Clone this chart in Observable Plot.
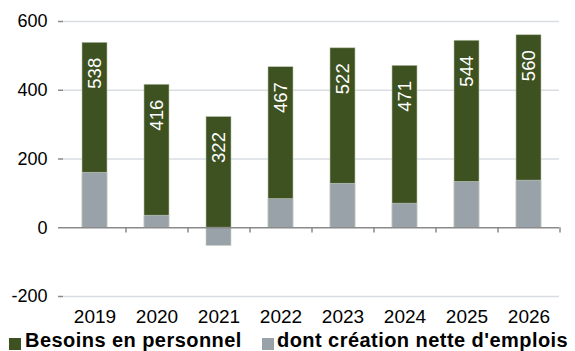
<!DOCTYPE html>
<html>
<head>
<meta charset="utf-8">
<script src="https://cdn.jsdelivr.net/npm/d3@7"></script>
<script src="https://cdn.jsdelivr.net/npm/@observablehq/plot@0.6"></script>
<style>
  html, body { margin: 0; padding: 0; background: #fff; }
  body { width: 575px; height: 351px; overflow: hidden; font-family: "Liberation Sans", Arial, sans-serif; }
  #legend { position: relative; height: 21px; }
  .sw { position: absolute; top: 8px; width: 12px; height: 12px; }
  .lt { position: absolute; top: 0px; font-weight: bold; font-size: 20px; letter-spacing: 0.45px; line-height: 20px; color: #000; white-space: nowrap; }
</style>
</head>
<body>
<div id="chart"></div>
<div id="legend"></div>
<script>
const years = ["2019", "2020", "2021", "2022", "2023", "2024", "2025", "2026"];
const besoins = [538, 416, 322, 467, 522, 471, 544, 560];
const creation = [160, 35, -53, 83, 128, 70, 133, 137];
const yTicks = [-200, 0, 200, 400, 600];
const seriesNames = ["Besoins en personnel", "dont création nette d'emplois"];
const colors = ["#3d5121", "#99a1a9"];

const data = years.map((y, i) => ({year: y, besoins: besoins[i], creation: creation[i]}));

const chart = Plot.plot({
  width: 575,
  height: 330,
  marginLeft: 63,
  marginRight: 16,
  marginTop: 21,
  marginBottom: 34,
  style: {fontFamily: '"Liberation Sans", Arial, sans-serif', fontSize: "18px", color: "#000", background: "#fff"},
  x: {domain: years, paddingInner: 0.6, paddingOuter: 0.3, align: 0.5, label: null},
  y: {domain: [-200, 600], label: null},
  marks: [
    Plot.ruleY(yTicks.filter(d => d !== 0), {stroke: "#d9dde2", strokeWidth: 1.3}),
    Plot.barY(data, {x: "year", y: "besoins", fill: colors[0], stroke: "#b8c2a8", strokeWidth: 0.6}),
    Plot.barY(data, {x: "year", y: "creation", fill: colors[1], stroke: "#c9d0c4", strokeWidth: 0.6}),
    Plot.ruleY([0], {stroke: "#8a8a8a", strokeWidth: 1.5}),
    Plot.ruleX(years, {x: d => d, y1: 0, y2: -15, dx: 31, stroke: "#8a8a8a", strokeWidth: 1.5}),
    Plot.axisY({ticks: yTicks, tickSize: 5, tickPadding: 11, tickFormat: d => String(d), stroke: "#8a8a8a", strokeWidth: 1.5, fontSize: 18, fill: "#000"}),
    Plot.ruleX([0], {frameAnchor: "left", y1: -200, y2: 600, stroke: "#8a8a8a", strokeWidth: 1.5}),
    Plot.axisX({tickSize: 0, tickPadding: 13, fontSize: 19, fill: "#000"}),
    Plot.text(data, {x: "year", y: "besoins", text: d => String(d.besoins), rotate: -90, textAnchor: "end", lineAnchor: "middle", dy: 15, fill: "#fff", fontSize: 18.5})
  ]
});
document.getElementById("chart").appendChild(chart);

const legend = document.getElementById("legend");
const pos = [{sw: 9, tx: 25}, {sw: 262, tx: 277}];
seriesNames.forEach((name, i) => {
  const s = document.createElement("div");
  s.className = "sw";
  s.style.left = pos[i].sw + "px";
  s.style.background = colors[i];
  legend.appendChild(s);
  const t = document.createElement("div");
  t.className = "lt";
  t.style.left = pos[i].tx + "px";
  t.textContent = name;
  legend.appendChild(t);
});
</script>
</body>
</html>
